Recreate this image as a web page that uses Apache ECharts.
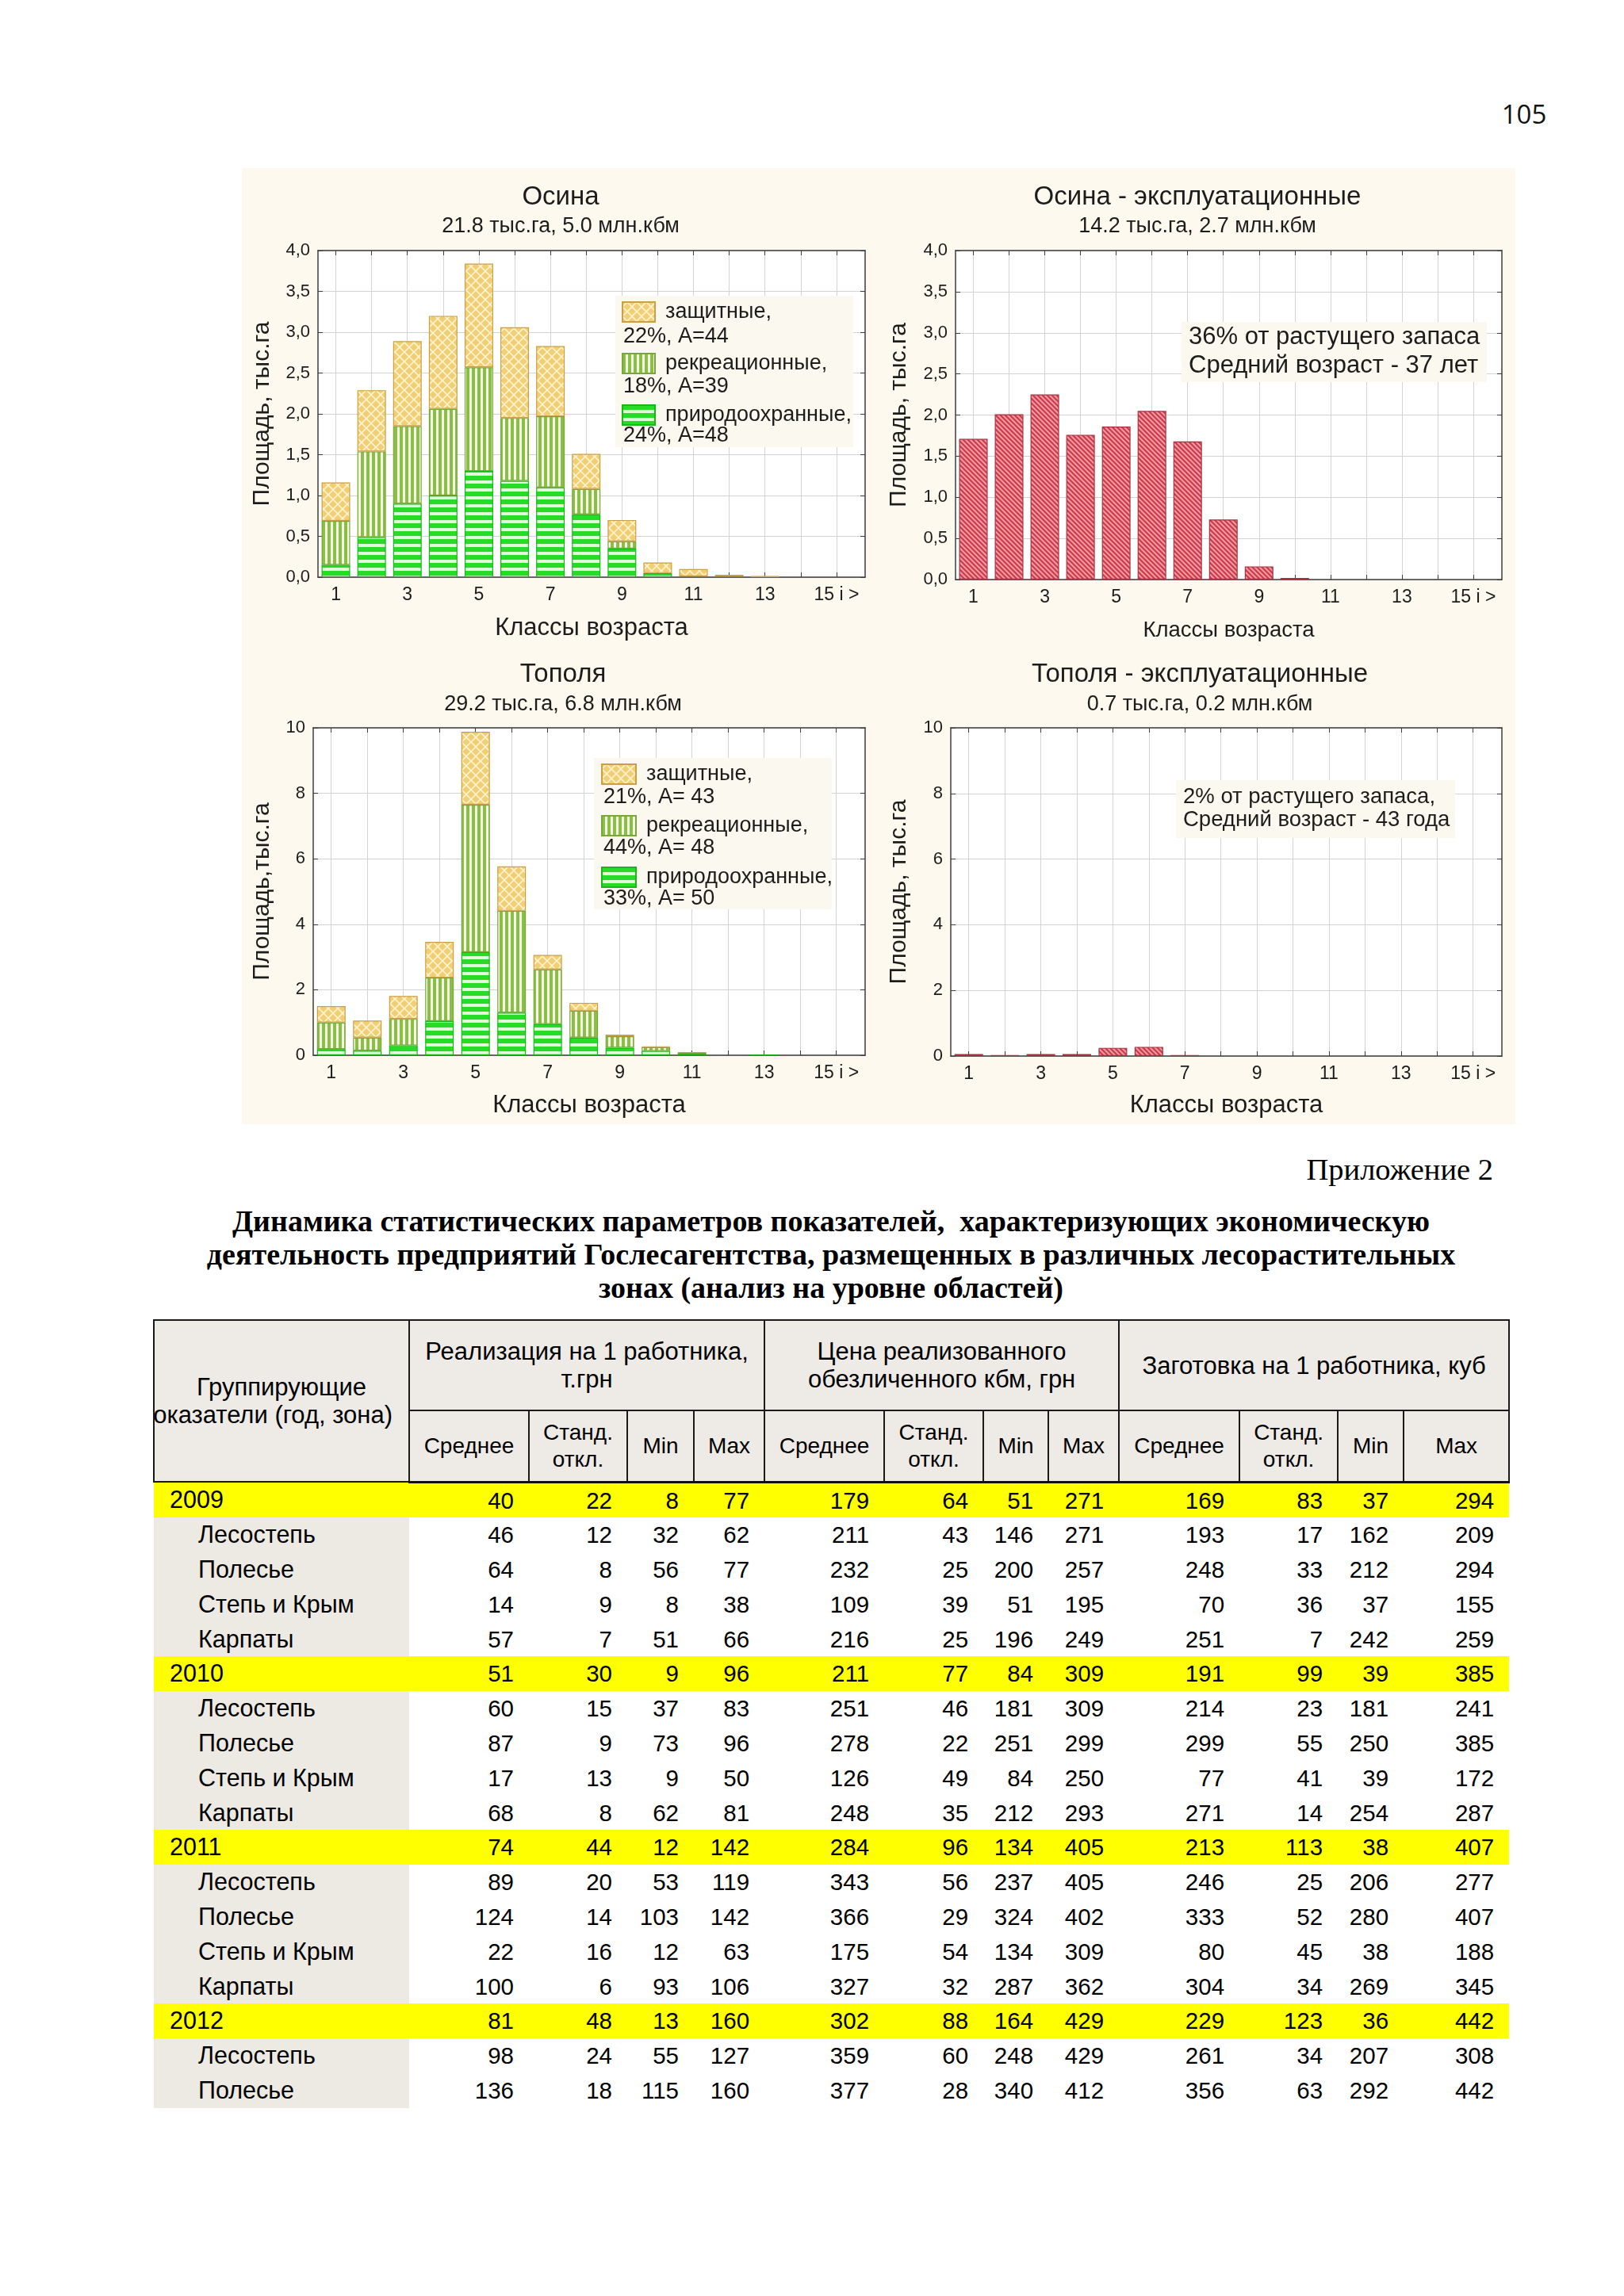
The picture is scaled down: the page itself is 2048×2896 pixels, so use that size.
<!DOCTYPE html>
<html>
<head>
<meta charset="utf-8">
<script src="https://cdn.jsdelivr.net/npm/echarts@6/dist/echarts.min.js"></script>
<style>
html,body{margin:0;padding:0;background:#fff;}
#page{position:relative;width:2048px;height:2896px;background:#fff;overflow:hidden;font-family:'Liberation Sans',Arial,sans-serif;color:#000;}
#pnum{position:absolute;left:1872px;width:100px;top:122px;text-align:center;font-family:'Open Sans',sans-serif;font-size:33px;line-height:44px;color:#111;}
#chartbg{position:absolute;left:305px;top:212px;width:1606px;height:1206px;background:#fdf9ef;}
#charts{position:absolute;left:0;top:0;width:2048px;height:1440px;}
#appx{position:absolute;right:165px;top:1452px;font-family:'Liberation Serif',serif;font-size:38.5px;line-height:46px;white-space:nowrap;}
#title{position:absolute;left:48px;width:2000px;top:1519px;text-align:center;font-family:'Liberation Serif',serif;font-weight:bold;font-size:38px;line-height:42px;white-space:nowrap;}
#tbl{position:absolute;left:193px;top:1664px;border-collapse:collapse;table-layout:fixed;width:1709px;}
#tbl th{border:2px solid #1a1a1a;background:#eeebe6;font-weight:normal;font-size:31px;line-height:35px;padding:0;text-align:center;vertical-align:middle;overflow:hidden;white-space:nowrap;}
#tbl th.sub{font-size:28px;line-height:34px;}
#tbl tr.h2 th{border-bottom:3px solid #111;}
#tbl td{height:43.8px;padding:0 19px 0 0;text-align:right;font-size:29.5px;line-height:43.8px;white-space:nowrap;overflow:hidden;}
#tbl td.lab{text-align:left;background:#edeae4;padding:0 0 0 56px;font-size:30.5px;}
#tbl tr.yr td{background:#ffff00;}
#tbl tr.yr td.lab{padding-left:20px;}
.grp2{display:flex;justify-content:flex-end;padding-right:20px;white-space:nowrap;}
</style>
</head>
<body>
<div id="page">
  <div id="pnum">105</div>
  <div id="chartbg"></div>
  <div id="charts"></div>
  <div id="appx">Приложение 2</div>
  <div id="title">Динамика статистических параметров показателей,&nbsp; характеризующих экономическую<br>деятельность предприятий Гослесагентства, размещенных в различных лесорастительных<br>зонах (анализ на уровне областей)</div>
  <table id="tbl"></table>
</div>
<script>
// ---------------- DATA: charts ----------------
const CLASSES = [1, 2, 3, 4, 5, 6, 7, 8, 9, 10, 11, 12, 13, 14, 15];
const X_LABEL_VALUES = [1, 3, 5, 7, 9, 11, 13, 15];
const X_TICK_LABELS = ['1', '3', '5', '7', '9', '11', '13', '15 i >'];
const Y_TICKS_OSINA = ['0,0', '0,5', '1,0', '1,5', '2,0', '2,5', '3,0', '3,5', '4,0'];
const Y_TICKS_TOPOL = ['0', '2', '4', '6', '8', '10'];

// Осина (area, thousand ha) by age class
const OSINA_NAT  = [0.15, 0.49, 0.90, 1.00, 1.30, 1.18, 1.10, 0.77, 0.35, 0.05, 0.01, 0.01, 0.00, 0, 0];
const OSINA_REC  = [0.54, 1.05, 0.95, 1.06, 1.27, 0.77, 0.87, 0.31, 0.09, 0.00, 0.00, 0.00, 0.00, 0, 0];
const OSINA_PROT = [0.47, 0.75, 1.04, 1.14, 1.27, 1.11, 0.86, 0.43, 0.26, 0.13, 0.09, 0.02, 0.015, 0, 0];
const OSINA_EXP  = [1.71, 2.01, 2.25, 1.76, 1.86, 2.05, 1.68, 0.73, 0.16, 0.02, 0, 0, 0, 0, 0];

// Тополя
const TOPOL_NAT  = [0.19, 0.14, 0.30, 1.04, 3.15, 1.30, 0.95, 0.54, 0.23, 0.13, 0.05, 0, 0.02, 0, 0];
const TOPOL_REC  = [0.81, 0.40, 0.81, 1.33, 4.50, 3.11, 1.67, 0.82, 0.35, 0.12, 0.03, 0, 0, 0, 0];
const TOPOL_PROT = [0.50, 0.52, 0.70, 1.09, 2.23, 1.36, 0.44, 0.24, 0.05, 0.02, 0.01, 0, 0, 0, 0];
const TOPOL_EXP  = [0.06, 0.03, 0.06, 0.06, 0.25, 0.28, 0.03, 0, 0, 0, 0, 0, 0, 0, 0];

const SERIES_NAMES = ['защитные', 'рекреационные', 'природоохранные'];
const LEGEND_OSINA = ['22%, A=44', '18%, A=39', '24%, A=48'];
const LEGEND_TOPOL = ['21%, A= 43', '44%, A= 48', '33%, A= 50'];
const TITLES = ['Осина', 'Осина - эксплуатационные', 'Тополя', 'Тополя - эксплуатационные'];
const SUBTITLES = ['21.8 тыс.га, 5.0 млн.кбм', '14.2 тыс.га, 2.7 млн.кбм', '29.2 тыс.га, 6.8 млн.кбм', '0.7 тыс.га, 0.2 млн.кбм'];
const NOTE_OSINA = ['36% от растущего запаса', 'Средний возраст - 37 лет'];
const NOTE_TOPOL = ['2% от растущего запаса,', 'Средний возраст - 43 года'];
const X_TITLE = 'Классы возраста';
const Y_TITLES = ['Площадь, тыс.га', 'Площадь, тыс.га', 'Площадь,тыс.га', 'Площадь, тыс.га'];

// ---------------- DATA: table ----------------
const ROW_LABELS = ['2009', 'Лесостепь', 'Полесье', 'Степь и Крым', 'Карпаты',
                    '2010', 'Лесостепь', 'Полесье', 'Степь и Крым', 'Карпаты',
                    '2011', 'Лесостепь', 'Полесье', 'Степь и Крым', 'Карпаты',
                    '2012', 'Лесостепь', 'Полесье'];
const REAL_MEAN  = [40, 46, 64, 14, 57, 51, 60, 87, 17, 68, 74, 89, 124, 22, 100, 81, 98, 136];
const REAL_SD    = [22, 12, 8, 9, 7, 30, 15, 9, 13, 8, 44, 20, 14, 16, 6, 48, 24, 18];
const REAL_MIN   = [8, 32, 56, 8, 51, 9, 37, 73, 9, 62, 12, 53, 103, 12, 93, 13, 55, 115];
const REAL_MAX   = [77, 62, 77, 38, 66, 96, 83, 96, 50, 81, 142, 119, 142, 63, 106, 160, 127, 160];
const PRICE_MEAN = [179, 211, 232, 109, 216, 211, 251, 278, 126, 248, 284, 343, 366, 175, 327, 302, 359, 377];
const PRICE_SD   = [64, 43, 25, 39, 25, 77, 46, 22, 49, 35, 96, 56, 29, 54, 32, 88, 60, 28];
const PRICE_MIN  = [51, 146, 200, 51, 196, 84, 181, 251, 84, 212, 134, 237, 324, 134, 287, 164, 248, 340];
const PRICE_MAX  = [271, 271, 257, 195, 249, 309, 309, 299, 250, 293, 405, 405, 402, 309, 362, 429, 429, 412];
const HARV_MEAN  = [169, 193, 248, 70, 251, 191, 214, 299, 77, 271, 213, 246, 333, 80, 304, 229, 261, 356];
const HARV_SD    = [83, 17, 33, 36, 7, 99, 23, 55, 41, 14, 113, 25, 52, 45, 34, 123, 34, 63];
const HARV_MIN   = [37, 162, 212, 37, 242, 39, 181, 250, 39, 254, 38, 206, 280, 38, 269, 36, 207, 292];
const HARV_MAX   = [294, 209, 294, 155, 259, 385, 241, 385, 172, 287, 407, 277, 407, 188, 345, 442, 308, 442];
const GROUP_HEADERS = ['Реализация на 1 работника,<br>т.грн', 'Цена реализованного<br>обезличенного кбм, грн', 'Заготовка на 1 работника, куб'];
const SUB_HEADERS = ['Среднее', 'Станд.<br>откл.', 'Min', 'Max'];

// ---------------- TABLE ----------------
(function buildTable() {
  const widths = [322, 151, 124, 84, 89, 151, 125, 82, 89, 152, 124, 83, 133];
  let h = '<colgroup>' + widths.map(w => '<col style="width:' + w + 'px">').join('') + '</colgroup>';
  h += '<tr style="height:114px"><th rowspan="2"><div>Группирующие</div><div class="grp2">показатели (год, зона)</div></th>';
  GROUP_HEADERS.forEach(g => { h += '<th colspan="4">' + g + '</th>'; });
  h += '</tr><tr class="h2" style="height:90px">';
  for (let k = 0; k < 3; k++) SUB_HEADERS.forEach(s => { h += '<th class="sub">' + s + '</th>'; });
  h += '</tr>';
  const cols = [REAL_MEAN, REAL_SD, REAL_MIN, REAL_MAX, PRICE_MEAN, PRICE_SD, PRICE_MIN, PRICE_MAX,
                HARV_MEAN, HARV_SD, HARV_MIN, HARV_MAX];
  ROW_LABELS.forEach((lab, i) => {
    const yr = /^\d{4}$/.test(lab);
    h += '<tr' + (yr ? ' class="yr"' : '') + '><td class="lab">' + lab + '</td>';
    cols.forEach(c => { h += '<td>' + c[i] + '</td>'; });
    h += '</tr>';
  });
  document.getElementById('tbl').innerHTML = h;
})();

// ---------------- PATTERNS ----------------
function pat(w, h, draw) {
  const c = document.createElement('canvas');
  c.width = w; c.height = h;
  const g = c.getContext('2d');
  draw(g, w, h);
  return { image: c, repeat: 'repeat' };
}
const P_PROT = pat(12, 12, g => {
  g.fillStyle = '#f2cf74'; g.fillRect(0, 0, 12, 12);
  g.strokeStyle = '#fff4d2'; g.lineWidth = 1.6; g.beginPath();
  g.moveTo(0, 6); g.lineTo(6, 0); g.moveTo(6, 12); g.lineTo(12, 6);
  g.moveTo(0, 6); g.lineTo(6, 12); g.moveTo(6, 0); g.lineTo(12, 6);
  g.stroke();
});
const P_REC = pat(7, 2, g => {
  g.fillStyle = '#f2f8e3'; g.fillRect(0, 0, 7, 2);
  g.fillStyle = '#8cbe47'; g.fillRect(0, 0, 4, 2);
});
const P_NAT = pat(2, 10, g => {
  g.fillStyle = '#e0fbda'; g.fillRect(0, 0, 2, 10);
  g.fillStyle = '#26dc26'; g.fillRect(0, 0, 2, 6);
});
const P_RED = pat(6, 6, g => {
  g.fillStyle = '#f29aa2'; g.fillRect(0, 0, 6, 6);
  g.strokeStyle = '#c83c4c'; g.lineWidth = 2.2; g.beginPath();
  g.moveTo(-1, -1); g.lineTo(7, 7); g.moveTo(-1, 5); g.lineTo(1, 7); g.moveTo(5, -1); g.lineTo(7, 1);
  g.stroke();
});
const STYLES = {
  'защитные': { color: P_PROT, borderColor: '#c9a046', borderWidth: 1.2 },
  'рекреационные': { color: P_REC, borderColor: '#78a838', borderWidth: 1.2 },
  'природоохранные': { color: P_NAT, borderColor: '#18b818', borderWidth: 1.2 },
  'эксплуатационные': { color: P_RED, borderColor: '#a8303e', borderWidth: 1.2 }
};

// ---------------- CHARTS ----------------
const FONT = "'Liberation Sans', Arial, sans-serif";
const TXT = '#1c1c1c';
const FRAME = '#3c3c3c';
const GRIDLINE = '#d3d3d3';
const GRIDS = [
  { left: 401, top: 316, width: 690, height: 412 },
  { left: 1205, top: 316, width: 689, height: 415 },
  { left: 395, top: 918, width: 696, height: 413 },
  { left: 1199, top: 918, width: 695, height: 414 }
];
const Y_MAX = [4, 4, 10, 10];
const Y_STEP = [0.5, 0.5, 2, 2];
const Y_LABELS = [Y_TICKS_OSINA, Y_TICKS_OSINA, Y_TICKS_TOPOL, Y_TICKS_TOPOL];
const X_NAME_SIZE = [31, 27.5, 31, 31];
const X_NAME_GAP = [49, 50, 48, 47];
const Y_NAME_GAP = [55, 56, 49, 50];

const xAxes = [], yAxes = [];
GRIDS.forEach((gr, g) => {
  xAxes.push({
    type: 'value', gridIndex: g, min: 0.5, max: 15.8, position: 'bottom',
    axisLine: { show: true, onZero: false, lineStyle: { color: FRAME, width: 1.5 } },
    axisTick: { show: true, inside: true, length: 6, customValues: CLASSES, lineStyle: { color: FRAME } },
    axisLabel: { show: true, customValues: X_LABEL_VALUES, margin: 11, fontSize: 23, color: TXT, fontFamily: FONT,
      formatter: v => X_TICK_LABELS[X_LABEL_VALUES.indexOf(v)] },
    splitLine: { show: true, lineStyle: { color: GRIDLINE, width: 1 } },
    name: X_TITLE, nameLocation: 'middle', nameGap: X_NAME_GAP[g],
    nameTextStyle: { fontSize: X_NAME_SIZE[g], color: TXT, fontFamily: FONT }
  });
  xAxes.push({
    type: 'value', gridIndex: g, min: 0.5, max: 15.8, position: 'top',
    axisLine: { show: true, onZero: false, lineStyle: { color: FRAME, width: 1.5 } },
    axisTick: { show: true, inside: true, length: 6, customValues: CLASSES, lineStyle: { color: FRAME } },
    axisLabel: { show: false }, splitLine: { show: false }
  });
  yAxes.push({
    type: 'value', gridIndex: g, min: 0, max: Y_MAX[g], interval: Y_STEP[g], position: 'left',
    axisLine: { show: true, onZero: false, lineStyle: { color: FRAME, width: 1.5 } },
    axisTick: { show: true, inside: true, length: 6, lineStyle: { color: FRAME } },
    axisLabel: { margin: 10, fontSize: 22, color: TXT, fontFamily: FONT,
      formatter: v => Y_LABELS[g][Math.round(v / Y_STEP[g])] },
    splitLine: { show: true, lineStyle: { color: GRIDLINE, width: 1 } },
    name: Y_TITLES[g], nameLocation: 'middle', nameGap: Y_NAME_GAP[g], nameRotate: 90,
    nameTextStyle: { fontSize: 30, color: TXT, fontFamily: FONT }
  });
  yAxes.push({
    type: 'value', gridIndex: g, min: 0, max: Y_MAX[g], interval: Y_STEP[g], position: 'right',
    axisLine: { show: true, onZero: false, lineStyle: { color: FRAME, width: 1.5 } },
    axisTick: { show: true, inside: true, length: 6, lineStyle: { color: FRAME } },
    axisLabel: { show: false }, splitLine: { show: false }
  });
});

// value first, class second: the value column is the stacked dimension
function rows(vals) { return CLASSES.map((c, i) => [vals[i] > 0 ? vals[i] : null, c]); }
function barSeries(name, vals, g, stack) {
  return {
    type: 'bar', name: name, xAxisIndex: 2 * g, yAxisIndex: 2 * g, stack: stack,
    encode: { x: 1, y: 0 },
    barWidth: 36, data: rows(vals), itemStyle: STYLES[name], emphasis: { disabled: true },
    z: 3
  };
}
const series = [
  barSeries('природоохранные', OSINA_NAT, 0, 'o'),
  barSeries('рекреационные', OSINA_REC, 0, 'o'),
  barSeries('защитные', OSINA_PROT, 0, 'o'),
  barSeries('эксплуатационные', OSINA_EXP, 1, 'oe'),
  barSeries('природоохранные', TOPOL_NAT, 2, 't'),
  barSeries('рекреационные', TOPOL_REC, 2, 't'),
  barSeries('защитные', TOPOL_PROT, 2, 't'),
  barSeries('эксплуатационные', TOPOL_EXP, 3, 'te')
];

function legendCfg(left, top, iw) {
  return {
    left: left, top: top, orient: 'vertical', itemWidth: iw, itemHeight: 25, itemGap: 38, padding: 0,
    data: SERIES_NAMES, selectedMode: false, icon: 'rect',
    formatter: n => n + ',',
    textStyle: { fontSize: 27, color: TXT, fontFamily: FONT, padding: [0, 0, 0, 8] }
  };
}

function txt(x, y, text, size, align, extra) {
  return Object.assign({
    type: 'text', x: x, y: y, z: 10, silent: true,
    style: { text: text, fill: TXT, font: size + 'px ' + FONT, textAlign: align || 'center', align: align || 'center',
      textVerticalAlign: 'middle', verticalAlign: 'middle' }
  }, extra || {});
}
function box(x, y, w, h) {
  return { type: 'rect', shape: { x: x, y: y, width: w, height: h }, z: 1, silent: true,
    style: { fill: '#fbf8ef' } };
}

const TITLE_POS = [[707, 249, 286], [1510, 249, 286], [710, 851, 889], [1513, 851, 889]];
const graphics = [
  box(776, 373, 300, 191),
  box(749, 956, 300, 191),
  box(1490, 406, 385, 76),
  box(1483, 984, 352, 73)
];
TITLES.forEach((t, i) => {
  const p = TITLE_POS[i];
  graphics.push(txt(p[0], p[1], t, 33));
  graphics.push(txt(p[0], p[2], SUBTITLES[i], 27));
});
LEGEND_OSINA.forEach((t, i) => graphics.push(txt(786, 425 + i * 62.5, t, 27, 'left')));
LEGEND_TOPOL.forEach((t, i) => graphics.push(txt(761, 1006 + i * 64, t, 27, 'left')));
NOTE_OSINA.forEach((t, i) => graphics.push(txt(1499, 425 + i * 36, t, 31, 'left')));
NOTE_TOPOL.forEach((t, i) => graphics.push(txt(1492, 1005 + i * 29, t, 27.5, 'left')));

const chart = echarts.init(document.getElementById('charts'), null, { renderer: 'canvas' });
chart.setOption({
  animation: false,
  backgroundColor: 'transparent',
  grid: GRIDS.map(g => Object.assign({ show: true, backgroundColor: '#ffffff', borderWidth: 0, containLabel: false }, g)),
  xAxis: xAxes,
  yAxis: yAxes,
  legend: [legendCfg(784, 380, 41), legendCfg(758, 963, 43)],
  series: series,
  graphic: { elements: graphics }
});
</script>
</body>
</html>
